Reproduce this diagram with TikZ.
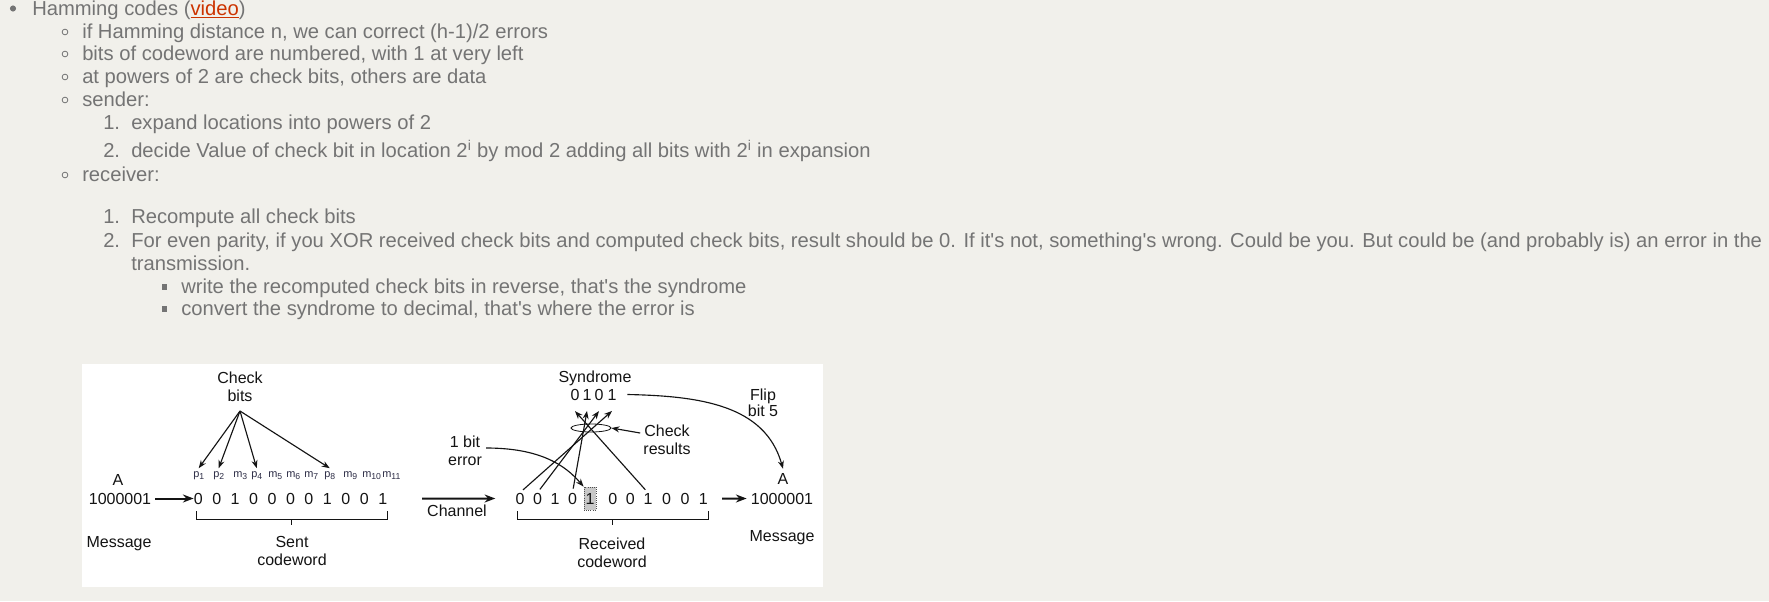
\documentclass[tikz,border=0pt]{standalone}
\usepackage{fontspec}
\setmainfont{Liberation Sans}[Ligatures=TeXOff]
\usetikzlibrary{arrows.meta,shapes.geometric,calc}
\definecolor{bg}{RGB}{241,240,235}
\definecolor{tcol}{RGB}{116,116,116}
\definecolor{lnk}{RGB}{204,51,0}
\definecolor{fcol}{RGB}{20,20,20}
\definecolor{scol}{RGB}{45,45,70}
\definecolor{boxg}{RGB}{200,200,200}
\newcommand\lbl[2]{{\fontsize{8.2pt}{9pt}\selectfont #1}\raisebox{-1.6pt}{\fontsize{6.5pt}{7pt}\selectfont #2}}
\tikzset{
  txt/.style={anchor=base west, inner sep=0pt, text=tcol, font=\fontsize{15.15pt}{18pt}\selectfont},
  fig/.style={anchor=base, text=fcol, font=\fontsize{12pt}{13.2pt}\selectfont, align=center, inner sep=3pt},
  bit/.style={anchor=base, inner sep=0pt, text=fcol, font=\fontsize{12pt}{13pt}\selectfont},
  sub/.style={anchor=base west, inner sep=2pt, text=scol},
  dot/.style={circle, fill=tcol, inner sep=0pt, minimum size=4.6pt},
  ring/.style={circle, draw=tcol, line width=0.6pt, inner sep=0pt, minimum size=4.3pt},
  sq/.style={rectangle, fill=tcol, inner sep=0pt, minimum size=3.8pt},
  thinarr/.style={draw=fcol, line width=0.85pt, -{Stealth[length=6pt,width=4.5pt]}},
  thickarr/.style={draw=fcol, line width=1.5pt, -{Stealth[length=8pt,width=6pt]}},
  brk/.style={draw=fcol, line width=0.7pt},
  gbox/.style={bit, draw=fcol!75, densely dotted, line width=0.6pt, fill=boxg, minimum width=9pt, minimum height=17.25pt}
}
\begin{document}
\begin{tikzpicture}[x=0.75pt,y=-0.75pt]
\fill[bg] (0,0) rectangle (1769,601);
\useasboundingbox (0,0) rectangle (1769,601);

% ---------- text ----------
\node[dot] (b0) at (13,8.5) {};
\node[txt] (t0) at (32,15) {Hamming codes (\textcolor{lnk}{\underline{video}})};
\node[ring] (b1) at (65,32) {};
\node[txt] (t1) at (82,38) {if Hamming distance n, we can correct (h-1)/2 errors};
\node[ring] (b2) at (65,54) {};
\node[txt] (t2) at (82,60) {bits of codeword are numbered, with 1 at very left};
\node[ring] (b3) at (65,77) {};
\node[txt] (t3) at (82,83) {at powers of 2 are check bits, others are data};
\node[ring] (b4) at (65,100) {};
\node[txt] (t4) at (82,106) {sender:};
\node[txt] (n1) at (103,129) {1.};
\node[txt] (t5) at (131,129) {expand locations into powers of 2};
\node[txt] (n2) at (103,157) {2.};
\node[txt] (t6) at (131,157) {decide Value of check bit in location 2\textsuperscript{i} by mod 2 adding all bits with 2\textsuperscript{i} in expansion};
\node[ring] (b5) at (65,175) {};
\node[txt] (t7) at (82,181) {receiver:};
\node[txt] (n3) at (103,223) {1.};
\node[txt] (t8) at (131,223) {Recompute all check bits};
\node[txt] (n4) at (103,247) {2.};
\node[txt] (t9) at (131,247) {For even parity, if you XOR received check bits and computed check bits, result should be 0. If it's not, something's wrong. Could be you. But could be (and probably is) an error in the};
\node[txt] (t10) at (131,270) {transmission.};
\node[sq] (q1) at (164.5,287) {};
\node[txt] (t11) at (181,293) {write the recomputed check bits in reverse, that's the syndrome};
\node[sq] (q2) at (164.5,309) {};
\node[txt] (t12) at (181,315) {convert the syndrome to decimal, that's where the error is};

% ---------- figure ----------
\fill[white] (82,364) rectangle (823,587);

% sender side
\node[fig] (cb) at (240,401) {Check\\bits};
\coordinate (apex) at (240,411);
\foreach \d [count=\i] in {0,0,1,0,0,0,0,1,0,0,1}
  \node[bit] (s\i) at ({198.3+18.44*(\i-1)},504) {\d};
\foreach \x/\l/\n [count=\i] in {193/p/1,213/p/2,233/m/3,251/p/4,268/m/5,286/m/6,304/m/7,324/p/8,343/m/9,362/m/10,382/m/11}
  \node[sub] (l\i) at ({\x-2.67},477) {\lbl{\l}{\n}};
\draw[thinarr] (apex) -- (l1.north);
\draw[thinarr] (apex) -- (l2.north);
\draw[thinarr] (apex) -- (l4.north);
\draw[thinarr] (apex) -- (l8.north);

\node[fig] (la) at (118,485) {A};
\node[fig] (ln) at (120,504) {1000001};
\node[fig] (lm) at (119,547) {Message};
\draw[thickarr] (ln) -- (s1);

\draw[brk] (196,511) -- (196,519) -- (387,519) -- (387,511);
\draw[brk] (291,519) -- (291,525);
\node[fig] (sent) at (292,565) {Sent\\codeword};

% channel
\foreach \x/\d [count=\i] in {520/0,537.5/0,555/1,572.5/0}
  \node[bit] (r\i) at (\x,504) {\d};
\node[gbox] (r5) at (590,504) {1};
\foreach \x/\d [count=\i from 6] in {612.7/0,630.3/0,648/1,666.5/0,685/0,703.3/1}
  \node[bit] (r\i) at (\x,504) {\d};
\draw[thickarr, shorten <=26pt, shorten >=15pt] (s11.east) -- (r1.west);
\node[fig] (chan) at (457,516) {Channel};

\node[fig] (err) at (465,465) {1 bit\\error};
\draw[thinarr] ($(err.base east)+(0,-17)$) .. controls (540,448) and (565,465) .. (r5.north west);

\draw[brk] (517,511) -- (517,519) -- (708,519) -- (708,511);
\draw[brk] (612,519) -- (612,525);
\node[fig] (recv) at (612,567) {Received\\codeword};

% syndrome
\node[fig] (syn) at (595,382) {Syndrome};
\foreach \x/\d [count=\i] in {575/0,587/1,599/0,612/1}
  \node[bit, inner ysep=8pt] (y\i) at (\x,400) {\d};
\draw[thinarr, shorten <=3pt] (r8.north) -- (y1.south);
\draw[thinarr, shorten <=3pt] (r4.north) -- (y2.south);
\draw[thinarr, shorten <=3pt] (r2.north) -- (y3.south);
\draw[thinarr, shorten <=3pt] (r1.north) -- (y4.south);
\node[draw=fcol, ellipse, line width=0.6pt, minimum width=30pt, minimum height=6pt, inner sep=0pt] (ell) at (591,428) {};
\node[fig] (cr) at (667,454) {Check\\results};
\draw[thinarr] ($(cr.base west)+(1,-21)$) -- (ell.east);

% receiver side
\node[fig, font=\fontsize{12pt}{12pt}\selectfont] (flip) at (763,416) {Flip\\bit 5};
\node[fig] (ra) at (783,484) {A};
\node[fig] (rn) at (782,504) {1000001};
\node[fig] (rm) at (782,541) {Message};
\draw[thinarr] ([xshift=8pt]y4.east) .. controls (700,396) and (765,405) .. (ra.north);
\draw[thickarr, shorten <=10.5pt] (r11.east) -- (rn);
\end{tikzpicture}
\end{document}
